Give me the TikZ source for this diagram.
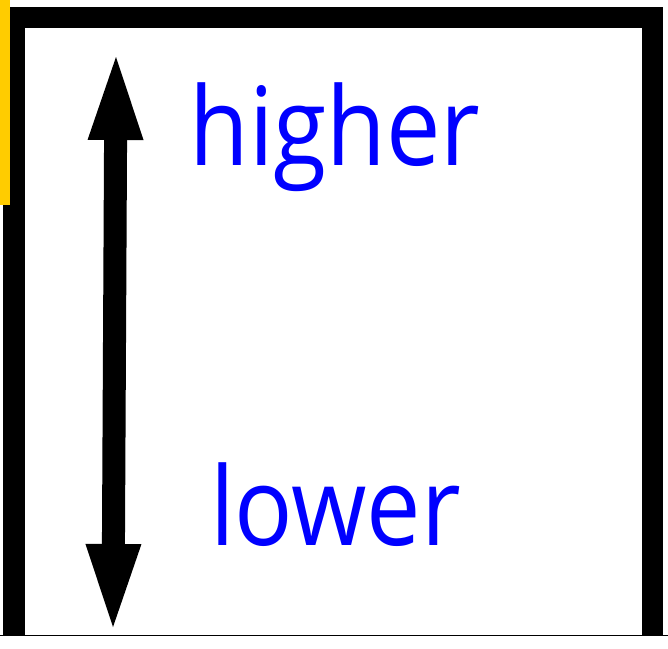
\documentclass[tikz,border=0pt]{standalone}
\usepackage{fontspec}
\setmainfont{Open Sans}
\newfontfamily\wordfont[FakeStretch=0.89]{Open Sans}
\usepackage{xcolor}
\usetikzlibrary{arrows.meta, positioning}

\definecolor{tabyellow}{HTML}{FFCC00}

\begin{document}
\begin{tikzpicture}[x=1pt, y=-1pt,
		word/.style={blue, inner sep=0pt, anchor=base, font=\wordfont\fontsize{109}{120}\selectfont}]
		\useasboundingbox (0,0) rectangle (668,648);
		\fill[white] (0,0) rectangle (668,648);
		
		% Frame
		\fill[black] (3,7) rectangle (663,28);
		\fill[black] (3,7) rectangle (25,635);
		\fill[black] (642,7) rectangle (663,635);
		\fill[tabyellow] (0,0) rectangle (10,205);
		\draw[line width=1pt] (0,635) -- (668,635);
		
		% Double arrow
		\coordinate (top) at (116,57);
		\coordinate (bottom) at (113,627);
		\draw[line width=23pt, {Triangle[length=83pt, width=56pt, line width=0pt]}-{Triangle[length=83pt, width=56pt, line width=0pt]}]
		(top) -- (bottom);
		
		% Labels
		\node[word] (higher) at (335,165) {higher};
		\node[word] (lower) at (335.5,545) {lower};
	\end{tikzpicture}
\end{document}
